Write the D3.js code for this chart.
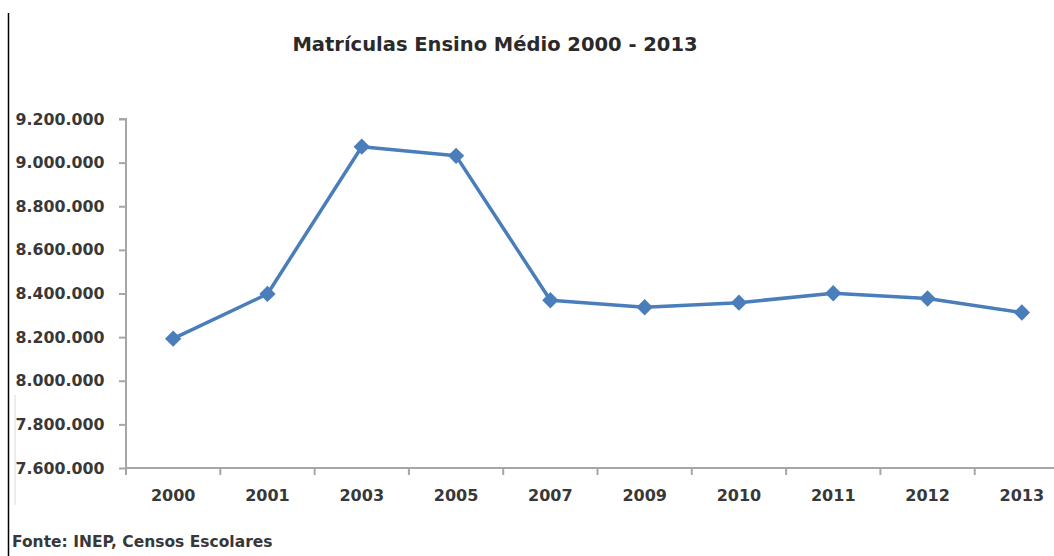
<!DOCTYPE html>
<html>
<head>
<meta charset="utf-8">
<script src="https://cdn.jsdelivr.net/npm/d3@7"></script>
<style>
  body { margin: 0; background: #fff; }
  text { font-family: "DejaVu Sans", sans-serif; font-weight: bold; }
</style>
</head>
<body>
<div id="my_dataviz"></div>
<script>
// data
var years = ["2000", "2001", "2003", "2005", "2007", "2009", "2010", "2011", "2012", "2013"];
var matriculas = [8193000, 8398000, 9073000, 9031000, 8369000, 8337000, 8358000, 8401000, 8377000, 8313000];
var yTicks = [7600000, 7800000, 8000000, 8200000, 8400000, 8600000, 8800000, 9000000, 9200000];

var W = 1054, H = 556;
var margin = {top: 119, right: -15, bottom: 88, left: 126},
    width = W - margin.left - margin.right,
    height = H - margin.top - margin.bottom;

var svg = d3.select("#my_dataviz")
    .append("svg")
        .attr("width", W)
        .attr("height", H);

// left frame line
svg.append("line")
    .attr("x1", 8.5).attr("x2", 8.5)
    .attr("y1", 13).attr("y2", H)
    .attr("stroke", "#000").attr("stroke-width", 1.5);
// faint remnant of the chart border
svg.append("line")
    .attr("x1", 15).attr("x2", 15)
    .attr("y1", 395).attr("y2", 505)
    .attr("stroke", "#e6e6e6").attr("stroke-width", 1.5);

var g = svg.append("g")
    .attr("transform", "translate(" + margin.left + "," + margin.top + ")");

var x = d3.scaleBand().domain(years).range([0, width]);
var y = d3.scaleLinear().domain([7600000, 9200000]).range([height, 0]);

// number format pt-BR style 9.200.000
var fmt = function(d) { return d3.format(",")(d).replace(/,/g, "."); };

// Y axis
var yAxis = g.append("g")
    .call(d3.axisLeft(y).tickValues(yTicks).tickFormat(fmt).tickSize(7).tickPadding(14.5));
yAxis.select(".domain").attr("stroke", "#a6a6a6").attr("stroke-width", 2).attr("d", "M-7,0H0V" + height);
yAxis.selectAll(".tick line").attr("stroke", "#a6a6a6").attr("stroke-width", 2);
yAxis.selectAll(".tick text")
    .style("font-size", "15.8px").style("font-family", null).attr("fill", "#383838");

// X axis
var xAxis = g.append("g")
    .attr("transform", "translate(0," + height + ")")
    .call(d3.axisBottom(x).tickSize(0).tickPadding(21.5));
xAxis.select(".domain").attr("stroke", "#a6a6a6").attr("stroke-width", 2).attr("d", "M0,0H" + width);
xAxis.selectAll(".tick text")
    .style("font-size", "16px").attr("fill", "#383838");
// tick marks at band boundaries
xAxis.selectAll(".bound")
    .data(years)
    .join("line")
        .attr("x1", function(d) { return x(d); })
        .attr("x2", function(d) { return x(d); })
        .attr("y1", 0).attr("y2", 7)
        .attr("stroke", "#a6a6a6").attr("stroke-width", 2);

// d3 axes set a font-family on the group; let the css one win
g.selectAll("g").attr("font-family", null);

// line
var line = d3.line()
    .x(function(d, i) { return x(years[i]) + x.bandwidth() / 2; })
    .y(function(d) { return y(d); });

g.append("path")
    .attr("d", line(matriculas))
    .attr("fill", "none")
    .attr("stroke", "#4a7ebb")
    .attr("stroke-width", 3.5)
    .attr("stroke-linejoin", "round");

// diamond markers
var diamond = d3.symbol().type(d3.symbolDiamond2).size(170);
g.selectAll(".pt")
    .data(matriculas)
    .join("path")
        .attr("class", "pt")
        .attr("transform", function(d, i) {
            return "translate(" + (x(years[i]) + x.bandwidth() / 2) + "," + y(d) + ")";
        })
        .attr("d", diamond)
        .attr("fill", "#4a7ebb");

// title
svg.append("text")
    .attr("x", 495).attr("y", 51)
    .attr("text-anchor", "middle")
    .style("font-size", "19.5px")
    .attr("fill", "#2a2a2a")
    .text("Matrículas Ensino Médio 2000 - 2013");

// source
svg.append("text")
    .attr("x", 12).attr("y", 547)
    .style("font-size", "15.5px")
    .attr("fill", "#383838")
    .text("Fonte: INEP, Censos Escolares");
</script>
</body>
</html>
